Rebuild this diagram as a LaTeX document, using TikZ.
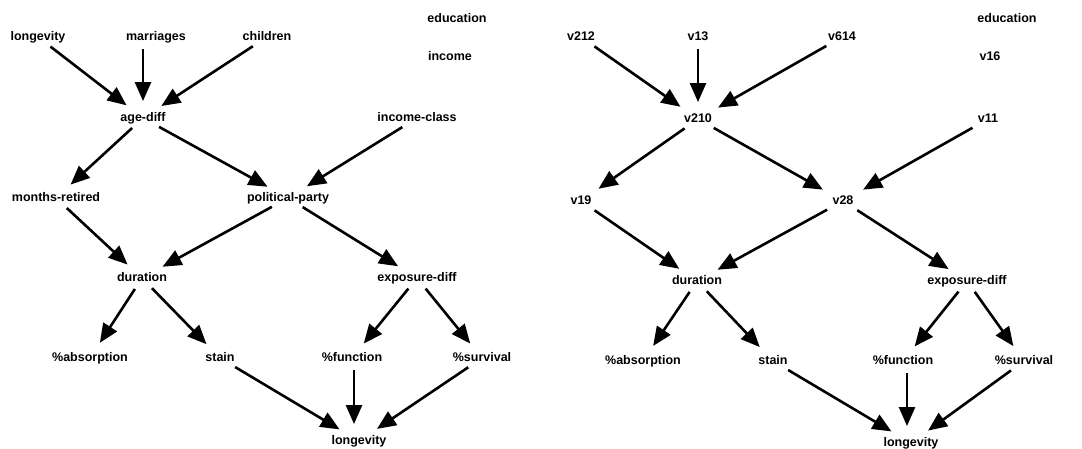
\documentclass[tikz,border=0pt]{standalone}
\usepackage{fontspec}
\setmainfont{Liberation Sans}
\usetikzlibrary{arrows.meta}

\begin{document}
\begin{tikzpicture}[x=1pt,y=-1pt,
    var/.style={inner sep=0pt,text height=9pt,text depth=2.5pt,font=\bfseries\fontsize{12.5}{14}\selectfont},
    dep/.style={-{Triangle[length=19pt,width=16pt]},line width=2.6pt,shorten <=6pt,shorten >=11pt}]
    \useasboundingbox (0,0) rectangle (1082,449);

    % left graph: variable names
    \node[var] (longA) at (38,37) {longevity};
    \node[var] (marriages) at (156,37) {marriages};
    \node[var] (children) at (267,37) {children};
    \node[var] (eduA) at (457,19) {education};
    \node[var] (income) at (450,57) {income};
    \node[var] (agediff) at (143,118) {age-diff};
    \node[var] (incclass) at (417,118) {income-class};
    \node[var] (retired) at (56,198) {months-retired};
    \node[var] (party) at (288,198) {political-party};
    \node[var] (durA) at (142,278) {duration};
    \node[var] (expA) at (417,278) {exposure-diff};
    \node[var] (absA) at (90,358) {\%absorption};
    \node[var] (stainA) at (220,358) {stain};
    \node[var] (funcA) at (352,358) {\%function};
    \node[var] (survA) at (482,358) {\%survival};
    \node[var] (longB) at (359,441) {longevity};

    \draw[dep] (longA) -- (agediff);
    \draw[dep] (marriages.south -| agediff.north) -- (agediff.north);
    \draw[dep] (children) -- (agediff);
    \draw[dep] (agediff) -- (retired);
    \draw[dep] (agediff) -- (party);
    \draw[dep] (incclass) -- (party);
    \draw[dep] (retired) -- (durA);
    \draw[dep] (party) -- (durA);
    \draw[dep] (party) -- (expA);
    \draw[dep] (durA) -- (absA);
    \draw[dep] (durA) -- (stainA);
    \draw[dep] (expA) -- (funcA);
    \draw[dep] (expA) -- (survA);
    \draw[dep] (stainA) -- (longB);
    \draw[dep] ([xshift=2pt]funcA.south) -- ([xshift=2pt]funcA.south |- longB.north);
    \draw[dep] (survA) -- (longB);

    % right graph: coded variables
    \node[var] (v212) at (581,37) {v212};
    \node[var] (v13) at (698,37) {v13};
    \node[var] (v614) at (842,37) {v614};
    \node[var] (eduB) at (1007,19) {education};
    \node[var] (v16) at (990,57) {v16};
    \node[var] (v210) at (698,119) {v210};
    \node[var] (v11) at (988,119) {v11};
    \node[var] (v19) at (581,201) {v19};
    \node[var] (v28) at (843,201) {v28};
    \node[var] (durB) at (697,281) {duration};
    \node[var] (expB) at (967,281) {exposure-diff};
    \node[var] (absB) at (643,361) {\%absorption};
    \node[var] (stainB) at (773,361) {stain};
    \node[var] (funcB) at (903,361) {\%function};
    \node[var] (survB) at (1024,361) {\%survival};
    \node[var] (longC) at (911,443) {longevity};

    \draw[dep] (v212) -- (v210);
    \draw[dep] (v13) -- (v210);
    \draw[dep] (v614) -- (v210);
    \draw[dep] (v210) -- (v19);
    \draw[dep] (v210) -- (v28);
    \draw[dep] (v11) -- (v28);
    \draw[dep] (v19) -- (durB);
    \draw[dep] (v28) -- (durB);
    \draw[dep] (v28) -- (expB);
    \draw[dep] (durB) -- (absB);
    \draw[dep] (durB) -- (stainB);
    \draw[dep] (expB) -- (funcB);
    \draw[dep] (expB) -- (survB);
    \draw[dep] (stainB) -- (longC);
    \draw[dep] ([xshift=4pt]funcB.south) -- ([xshift=4pt]funcB.south |- longC.north);
    \draw[dep] (survB) -- (longC);
\end{tikzpicture}
\end{document}
